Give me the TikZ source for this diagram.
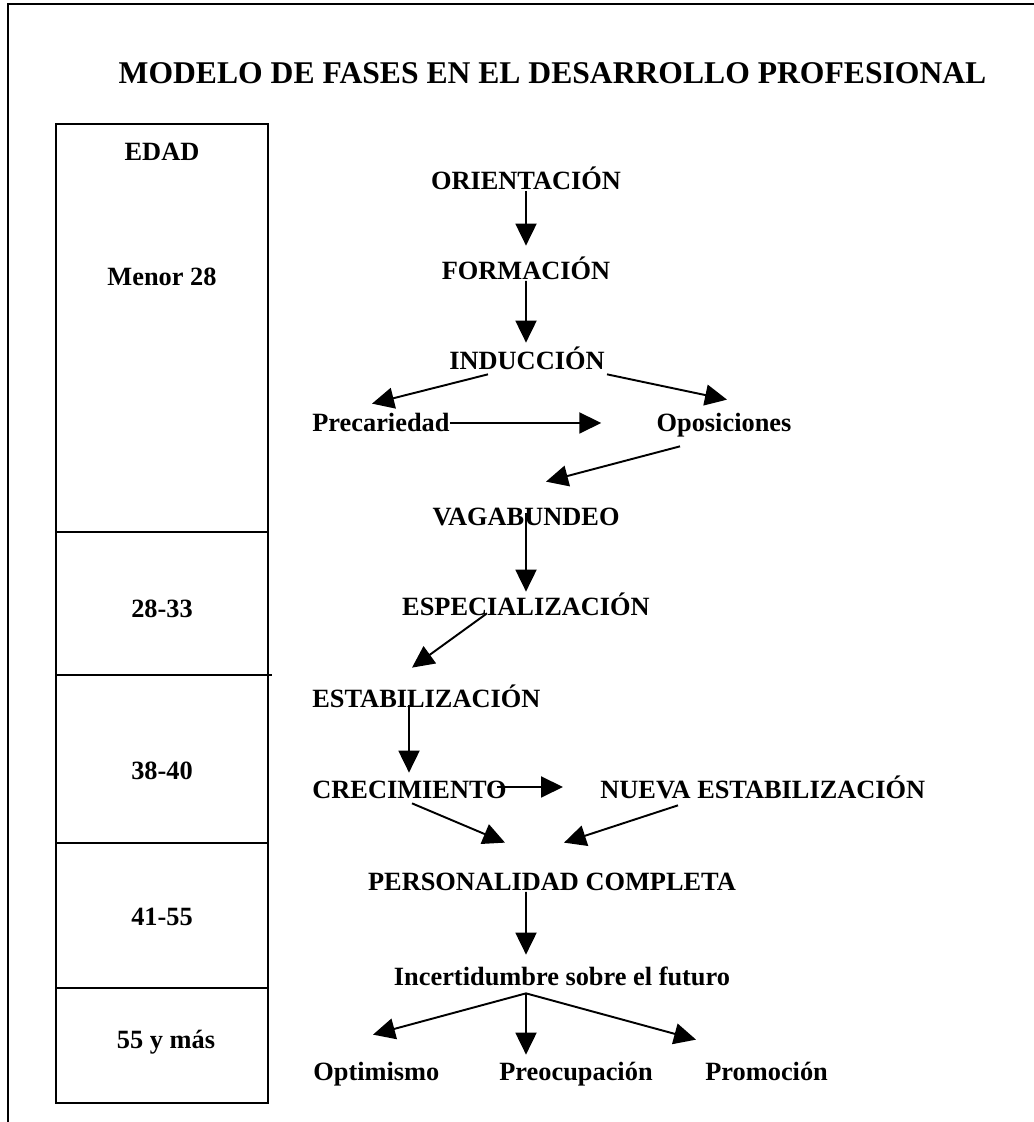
\documentclass[tikz,border=0pt]{standalone}
\usepackage{fontspec}
\setmainfont{Liberation Serif}
\usetikzlibrary{arrows.meta,positioning}

\begin{document}
\begin{tikzpicture}[
  >={Triangle[length=0.44cm,width=0.42cm]},
  phase/.style={font=\fontsize{15}{18}\selectfont\bfseries, inner sep=0pt,
                text height=0.36cm, text depth=0.02cm},
  arrow/.style={->, line width=1.1pt},
  tabline/.style={line width=1.1pt}
]
\useasboundingbox (0,0) rectangle (20.68,22.44);

%% Frame
\draw[line width=1.5pt] (0.16,0) -- (0.16,22.36) -- (20.68,22.36);

%% Title
\node[font=\fontsize{18}{22}\selectfont\bfseries] (title) at (11.05,20.98)
  {MODELO DE FASES EN EL DESARROLLO PROFESIONAL};

%% Age column
\draw[tabline] (1.12,0.38) rectangle (5.36,19.96);
\draw[tabline] (1.12,11.80) -- (5.36,11.80);
\draw[tabline] (1.12,8.94) -- (5.44,8.94);
\draw[tabline] (1.12,5.58) -- (5.36,5.58);
\draw[tabline] (1.12,2.68) -- (5.36,2.68);

\node[phase] (edad)  at (3.24,19.40) {EDAD};
\node[phase] (menor) at (3.24,16.90) {Menor 28};
\node[phase] (r2833) at (3.24,10.26) {28-33};
\node[phase] (r3840) at (3.24,7.02)  {38-40};
\node[phase] (r4155) at (3.24,4.10)  {41-55};
\node[phase] (r55)   at (3.32,1.64)  {55 y más};

%% Phases
\node[phase] (orient) at (10.52,18.82) {ORIENTACIÓN};
\node[phase] (form)   at (10.52,17.02) {FORMACIÓN};
\node[phase] (ind)    at (10.54,15.22) {INDUCCIÓN};
\node[phase, anchor=west] (prec) at (6.24,13.98) {Precariedad};
\node[phase] (opos)   at (14.48,13.98) {Oposiciones};
\node[phase] (vaga)   at (10.52,12.10) {VAGABUNDEO};
\node[phase] (espec)  at (10.52,10.30) {ESPECIALIZACIÓN};
\node[phase, anchor=west] (estab) at (6.24,8.46) {ESTABILIZACIÓN};
\node[phase, anchor=west] (crec)  at (6.24,6.64) {CRECIMIENTO};
\node[phase, anchor=west] (nueva) at (12.00,6.64) {NUEVA ESTABILIZACIÓN};
\node[phase] (pers)   at (11.04,4.80) {PERSONALIDAD COMPLETA};
\node[phase] (incert) at (11.24,2.90) {Incertidumbre sobre el futuro};
\node[phase, anchor=west] (optim) at (6.26,1.00) {Optimismo};
\node[phase] (preoc)  at (11.52,1.00) {Preocupación};
\node[phase, anchor=west] (promo) at (14.10,1.00) {Promoción};

%% Connectors
\draw[arrow] (orient.south) -- ([yshift=0.31cm]form.north);
\draw[arrow] (form.south) -- ([xshift=-0.02cm,yshift=0.17cm]ind.north);
\draw[arrow] ([xshift=-0.78cm,yshift=-0.07cm]ind.south)
  -- ([xshift=1.2cm,yshift=0.19cm]prec.north west);
\draw[arrow] ([xshift=1.6cm,yshift=-0.07cm]ind.south)
  -- ([xshift=0.06cm,yshift=0.27cm]opos.north);
\draw[arrow] (prec.east) -- ([xshift=-1.1cm]opos.west);
\draw[arrow] ([xshift=-0.88cm,yshift=-0.27cm]opos.south)
  -- ([xshift=0.4cm,yshift=0.51cm]vaga.north);
\draw[arrow] ([yshift=0.08cm]vaga.center) -- ([yshift=0.11cm]espec.north);
\draw[arrow] ([xshift=-0.78cm,yshift=0.07cm]espec.south)
  -- ([xshift=2.0cm,yshift=0.43cm]estab.north west);
\draw[arrow] ([xshift=1.94cm,yshift=0.07cm]estab.south west)
  -- ([xshift=1.94cm,yshift=0.15cm]crec.north west);
\draw[arrow] ([xshift=-0.2cm,yshift=0.06cm]crec.east)
  -- ([xshift=-0.74cm,yshift=0.06cm]nueva.west);
\draw[arrow] ([xshift=2.0cm,yshift=-0.07cm]crec.south west)
  -- ([xshift=-0.94cm,yshift=0.59cm]pers.north);
\draw[arrow] ([xshift=1.56cm,yshift=-0.11cm]nueva.south west)
  -- ([xshift=0.24cm,yshift=0.59cm]pers.north);
\draw[arrow] ([xshift=-0.52cm]pers.south)
  -- ([xshift=-0.72cm,yshift=0.25cm]incert.north);

\coordinate (apex) at ([xshift=-0.72cm,yshift=-0.13cm]incert.south);
\draw[arrow] (apex) -- ([xshift=1.2cm,yshift=0.55cm]optim.north west);
\draw[arrow] (apex) -- ([xshift=-1.0cm,yshift=0.15cm]preoc.north);
\draw[arrow] (apex) -- ([xshift=-0.18cm,yshift=0.45cm]promo.north west);

\end{tikzpicture}
\end{document}
